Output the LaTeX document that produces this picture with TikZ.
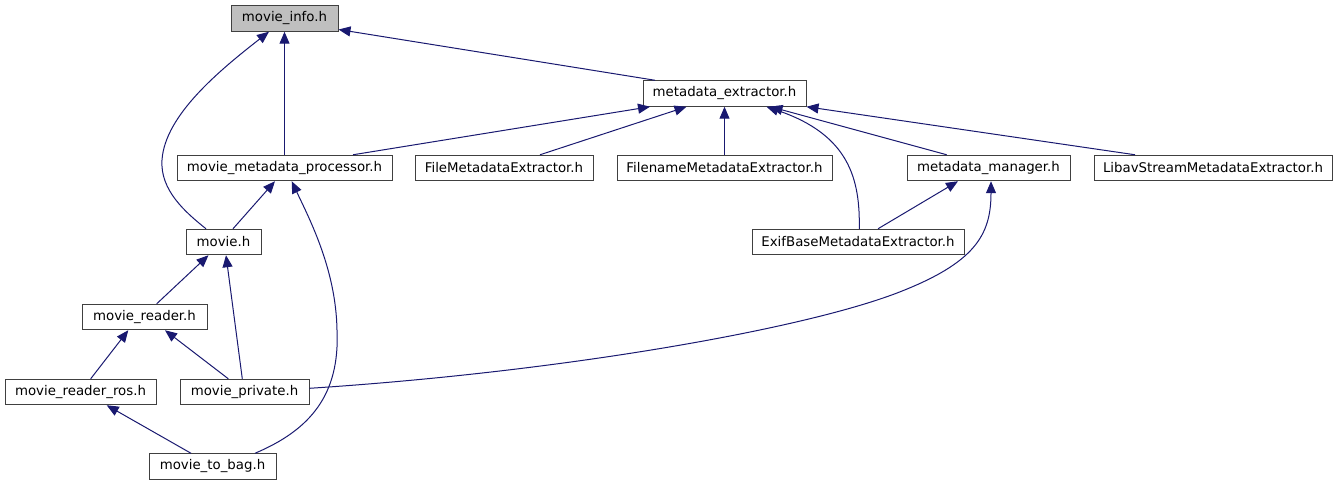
\documentclass[tikz,border=0pt]{standalone}
\usepackage{fontspec}
\setmainfont{DejaVu Sans}
\usetikzlibrary{arrows.meta,calc}
\definecolor{edgecol}{HTML}{191970}
\definecolor{bordercol}{HTML}{404040}
\definecolor{rootfill}{HTML}{BFBFBF}
\begin{document}
\begin{tikzpicture}[x=0.75pt,y=-0.75pt,
  box/.style={draw=bordercol, line width=0.75pt, fill=white, minimum height=19.1pt,
    inner sep=0pt, anchor=center, font=\fontsize{10}{12}\selectfont},
  edge/.style={draw=edgecol, line width=0.75pt, -{Triangle[length=9pt,width=7.5pt]}}]
\useasboundingbox (0,0) rectangle (1337,485);
% nodes
\node[box, fill=rootfill, minimum width=80.25pt] (info) at (284.5,18.5) {movie\_info.h};
\node[box, minimum width=122.25pt] (me) at (724.5,93.5) {metadata\_extractor.h};
\node[box, minimum width=161.25pt] (mp) at (284.5,168) {movie\_metadata\_processor.h};
\node[box, minimum width=133.5pt] (fme) at (504,168) {FileMetadataExtractor.h};
\node[box, minimum width=161.25pt] (fnme) at (724.5,168) {FilenameMetadataExtractor.h};
\node[box, minimum width=122.25pt] (mm) at (988.5,168) {metadata\_manager.h};
\node[box, minimum width=178.5pt] (lib) at (1213,168) {LibavStreamMetadataExtractor.h};
\node[box, minimum width=159pt] (exif) at (858,242) {ExifBaseMetadataExtractor.h};
\node[box, minimum width=56.25pt] (movie) at (223.5,242) {movie.h};
\node[box, minimum width=93.75pt] (reader) at (144.5,317) {movie\_reader.h};
\node[box, minimum width=113.25pt] (ros) at (80.5,392) {movie\_reader\_ros.h};
\node[box, minimum width=96.75pt] (priv) at (244.5,392) {movie\_private.h};
\node[box, minimum width=95.25pt] (bag) at (212.5,466.5) {movie\_to\_bag.h};
% edges
\draw[edge] (mp.north) -- (info.south);
\draw[edge] ($(movie.north)+(-17.5,0)$) .. controls (185,212) and (160,190) .. (162,160)
  .. controls (165,115) and (220,70) .. ($(info.south)+(-15.5,0)$);
\draw[edge] ($(me.north)+(-69.5,0)$) -- ($(info.east)+(0,11)$);
\draw[edge] ($(mp.north)+(68.5,0)$) -- ($(me.south)+(-74.5,0)$);
\draw[edge] ($(fme.north)+(36,0)$) -- ($(me.south)+(-38,0)$);
\draw[edge] (fnme.north) -- (me.south);
\draw[edge] ($(exif.north)+(1.3,0)$) .. controls (860,180) and (850,135) .. ($(me.south)+(42,0)$);
\draw[edge] ($(mm.north)+(-41.8,0)$) -- ($(me.south)+(46,0)$);
\draw[edge] ($(lib.north)+(-78,0)$) -- (me.south east);
\draw[edge] ($(exif.north)+(20,0)$) -- ($(mm.south)+(-30.5,0)$);
\draw[edge] ($(priv.east)+(0,-3.7)$) .. controls (560,372) and (800,330) .. (897,293)
  .. controls (975,263) and (991,235) .. ($(mm.south)+(2.5,0)$);
\draw[edge] ($(movie.north)+(9.5,0)$) -- ($(mp.south)+(-9.5,0)$);
\draw[edge] ($(bag.north)+(42.5,0)$) .. controls (310,430) and (340,395) .. (337,330)
  .. controls (336,270) and (310,220) .. ($(mp.south)+(7.2,0)$);
\draw[edge] ($(reader.north)+(12.2,0)$) -- ($(movie.south)+(-15,0)$);
\draw[edge] ($(priv.north)+(-2.2,0)$) -- ($(movie.south)+(2.5,0)$);
\draw[edge] ($(ros.north)+(10.2,0)$) -- ($(reader.south)+(-16.2,0)$);
\draw[edge] ($(priv.north)+(-16.2,0)$) -- ($(reader.south)+(20.5,0)$);
\draw[edge] ($(bag.north)+(-21.5,0)$) -- ($(ros.south)+(26.2,0)$);
\end{tikzpicture}
\end{document}
